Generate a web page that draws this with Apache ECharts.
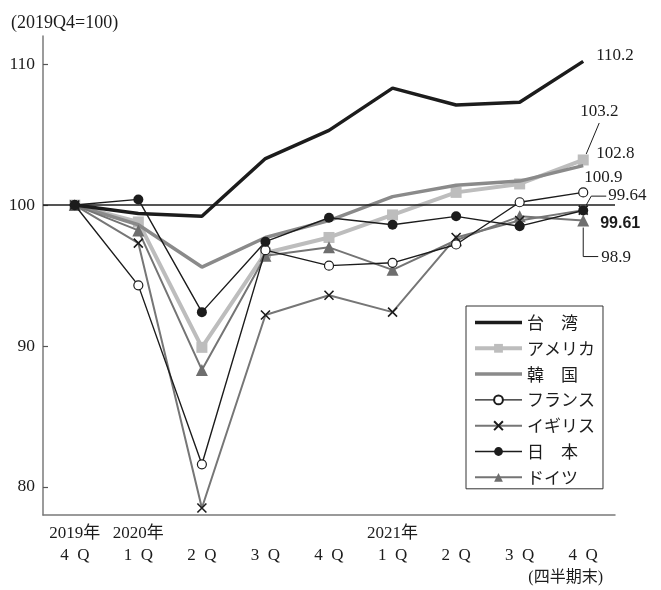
<!DOCTYPE html>
<html>
<head>
<meta charset="utf-8">
<script src="https://cdn.jsdelivr.net/npm/echarts@6/dist/echarts.min.js"></script>
<style>
  html, body { margin: 0; padding: 0; background: #fff; }
  #chart { width: 661px; height: 590px; }
</style>
</head>
<body>
<div id="chart"></div>
<script>
// Quarter-end categories (two-line labels: year row, quarter row)
const quarters = ['2019年\n4\u2002Q', '2020年\n1\u2002Q', '\n2\u2002Q', '\n3\u2002Q', '\n4\u2002Q',
                  '2021年\n1\u2002Q', '\n2\u2002Q', '\n3\u2002Q', '\n4\u2002Q'];
const yTicks = [80, 90, 100, 110];

// Index values, 2019Q4 = 100
const taiwan  = [100, 99.4, 99.2, 103.3, 105.3, 108.3, 107.1, 107.3, 110.2];
const america = [100, 98.8, 89.9, 96.6, 97.7, 99.3, 100.9, 101.5, 103.2];
const korea   = [100, 98.6, 95.6, 97.7, 98.9, 100.6, 101.4, 101.7, 102.8];
const france  = [100, 94.3, 81.6, 96.8, 95.7, 95.9, 97.2, 100.2, 100.9];
const uk      = [100, 97.3, 78.5, 92.2, 93.6, 92.4, 97.7, 98.9, 99.64];
const japan   = [100, 100.4, 92.4, 97.4, 99.1, 98.6, 99.2, 98.5, 99.61];
const germany = [100, 98.2, 88.3, 96.4, 97.0, 95.4, 97.5, 99.2, 98.9];

const names = ['台　湾', 'アメリカ', '韓　国', 'フランス', 'イギリス', '日　本', 'ドイツ'];

const SERIF = "'Liberation Serif', 'Noto Sans CJK JP', serif";
const INK = '#1c1c1c';
const BAR_ICON = 'path://M0,0H47V3.5H0Z';   // plain thick line sample for marker-less series

const chart = echarts.init(document.getElementById('chart'), null, { renderer: 'canvas' });

function lineSeries(name, data, color, width, symbol, size, itemStyle, z) {
  return {
    name: name,
    type: 'line',
    data: data,
    z: z,
    symbol: symbol,
    symbolSize: size,
    showSymbol: symbol !== 'none',
    lineStyle: { color: color, width: width },
    itemStyle: Object.assign({ color: color }, itemStyle || {}),
    emphasis: { disabled: true },
    animation: false
  };
}

const series = [
  lineSeries(names[1], america, '#bdbdbd', 4, 'rect', 11, null, 2),
  lineSeries(names[2], korea, '#8a8a8a', 3.5, 'none', 0, null, 3),
  lineSeries(names[6], germany, '#747474', 2, 'triangle', 12, { color: '#6e6e6e' }, 4),
  lineSeries(names[4], uk, '#767676', 2, 'path://M0,0L10,10M10,0L0,10', 9,
             { color: 'none', borderColor: INK, borderWidth: 1.6 }, 5),
  lineSeries(names[3], france, INK, 1.4, 'circle', 9,
             { color: '#fff', borderColor: INK, borderWidth: 1.2 }, 6),
  lineSeries(names[5], japan, INK, 1.4, 'circle', 10, { color: INK }, 7),
  lineSeries(names[0], taiwan, INK, 3.5, 'none', 0, null, 8)
];

// Reference line at the base level (100)
series[6].markLine = {
  silent: true,
  symbol: 'none',
  label: { show: false },
  lineStyle: { color: INK, width: 1.5, type: 'solid' },
  data: [{ yAxis: 100 }],
  animation: false
};

chart.setOption({
  animation: false,
  grid: { left: 43, right: 46, top: 36, bottom: 75, containLabel: false },
  title: {
    text: '(2019Q4=100)',
    left: 11, top: 14,
    padding: 0,
    textStyle: { fontFamily: SERIF, fontSize: 18, fontWeight: 'normal', color: INK }
  },
  legend: {
    data: [
      { name: names[0], icon: BAR_ICON },
      names[1],
      { name: names[2], icon: BAR_ICON },
      names[3], names[4], names[5], names[6]
    ],
    orient: 'vertical',
    left: 466, top: 306,
    padding: [8, 8, 3, 7],
    itemWidth: 47, itemHeight: 11, itemGap: 8.8,
    backgroundColor: '#fff',
    borderColor: '#333', borderWidth: 1,
    selectedMode: false,
    lineStyle: { width: 'inherit' },
    textStyle: { fontFamily: "'Noto Sans CJK JP', sans-serif", fontSize: 17, color: INK }
  },
  xAxis: {
    type: 'category',
    data: quarters,
    boundaryGap: true,
    axisLine: { lineStyle: { color: '#7a7a7a', width: 1.5 } },
    axisTick: { show: false },
    axisLabel: {
      interval: 0, margin: 8,
      fontFamily: SERIF, fontSize: 17, lineHeight: 22, color: INK
    },
    splitLine: { show: false }
  },
  yAxis: {
    type: 'value',
    min: 78, max: 112,
    axisLine: { show: true, lineStyle: { color: '#7a7a7a', width: 1.5 } },
    axisTick: { show: true, inside: true, length: 5, customValues: yTicks,
                lineStyle: { color: '#555', width: 1.2 } },
    axisLabel: { customValues: yTicks, margin: 8, fontFamily: SERIF, fontSize: 17.5, color: INK },
    splitLine: { show: false }
  },
  series: series
});

// End-of-period value notes, placed relative to each line's last point
const endNotes = [
  { data: taiwan,  dx: 13, dy: -6 },
  { data: america, dx: -3, dy: -48, leader: [[16, -37], [3, -6]] },
  { data: korea,   dx: 13, dy: -12 },
  { data: france,  dx: 1,  dy: -15 },
  { data: uk,      dx: 25, dy: -15, leader: [[3, -5], [8, -14], [23, -14]] },
  { data: japan,   dx: 17, dy: 13, bold: true },
  { data: germany, dx: 18, dy: 37, leader: [[0, 7], [0, 36], [15, 36]] }
];

const graphics = [];
endNotes.forEach(function (n) {
  const last = n.data.length - 1;
  const v = n.data[last];
  const p = chart.convertToPixel({ xAxisIndex: 0, yAxisIndex: 0 }, [last, v]);
  graphics.push({
    type: 'text',
    x: p[0] + n.dx, y: p[1] + n.dy,
    z: 20,
    style: {
      text: String(v),
      fontFamily: n.bold ? "'Liberation Sans', Arial, sans-serif" : SERIF,
      fontWeight: n.bold ? 'bold' : 'normal',
      fontSize: n.bold ? 16 : 17,
      fill: INK,
      align: 'left', verticalAlign: 'middle'
    }
  });
  if (n.leader) {
    graphics.push({
      type: 'polyline',
      z: 19,
      shape: { points: n.leader.map(function (d) { return [p[0] + d[0], p[1] + d[1]]; }) },
      style: { stroke: INK, lineWidth: 1, fill: null }
    });
  }
});

graphics.push({
  type: 'text',
  x: 603, y: 578,
  style: { text: '(四半期末)', fontFamily: SERIF, fontSize: 16, fill: INK,
           align: 'right', verticalAlign: 'middle' }
});

chart.setOption({ graphic: graphics });
</script>
</body>
</html>
